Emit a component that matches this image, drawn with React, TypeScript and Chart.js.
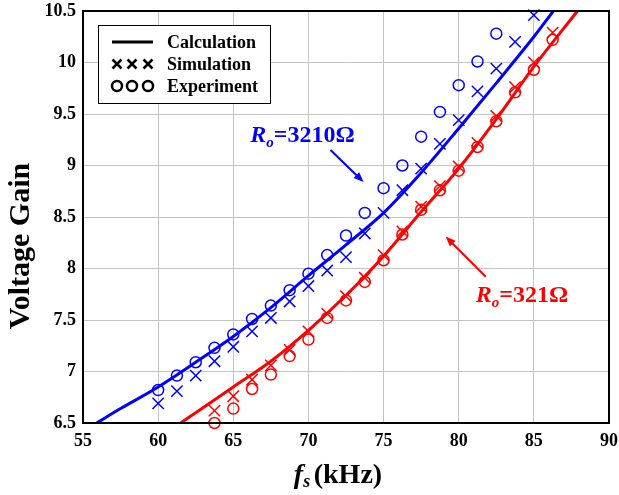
import React, { useEffect, useRef } from 'react';
import { Chart, registerables } from 'chart.js';
Chart.register(...registerables);

const FONT = '"Liberation Serif", "Times New Roman", serif';

// measured frequencies (kHz)
const blueExpFreq = [60, 61.25, 62.5, 63.75, 65, 66.25, 67.5, 68.75, 70, 71.25, 72.5, 73.75, 75, 76.25, 77.5, 78.75, 80, 81.25, 82.5];
const blueExperiment = [6.82, 6.96, 7.09, 7.23, 7.36, 7.51, 7.64, 7.79, 7.95, 8.13, 8.32, 8.54, 8.78, 9.0, 9.28, 9.52, 9.78, 10.01, 10.28];

const blueSimFreq = [60, 61.25, 62.5, 63.75, 65, 66.25, 67.5, 68.75, 70, 71.25, 72.5, 73.75, 75, 76.25, 77.5, 78.75, 80, 81.25, 82.5, 83.75, 85];
const blueSimulation = [6.69, 6.81, 6.96, 7.1, 7.24, 7.39, 7.52, 7.68, 7.83, 7.98, 8.11, 8.34, 8.54, 8.76, 8.97, 9.21, 9.44, 9.72, 9.94, 10.2, 10.46];

const redFreq = [63.75, 65, 66.25, 67.5, 68.75, 70, 71.25, 72.5, 73.75, 75, 76.25, 77.5, 78.75, 80, 81.25, 82.5, 83.75, 85, 86.25];
const redExperiment = [6.5, 6.64, 6.83, 6.97, 7.15, 7.31, 7.52, 7.69, 7.87, 8.08, 8.33, 8.57, 8.76, 8.95, 9.18, 9.43, 9.71, 9.93, 10.22];
const redSimulation = [6.62, 6.76, 6.92, 7.06, 7.21, 7.39, 7.56, 7.73, 7.91, 8.13, 8.36, 8.6, 8.8, 8.99, 9.22, 9.48, 9.76, 10.0, 10.29];

const blueCalcFreq = [55.9, 57.5, 60, 62.5, 65, 67.5, 70, 72.5, 75, 77.5, 80, 82.5, 85, 86.3];
const blueCalculation = [6.5, 6.64, 6.85, 7.09, 7.34, 7.62, 7.93, 8.23, 8.54, 8.93, 9.36, 9.8, 10.25, 10.5];

const redCalcFreq = [61.5, 62.5, 65, 67.5, 70, 72.5, 75, 77.5, 80, 82.5, 85, 87.9];
const redCalculation = [6.5, 6.6, 6.85, 7.1, 7.4, 7.74, 8.12, 8.55, 8.97, 9.45, 9.96, 10.5];

const xTickValues = [55, 60, 65, 70, 75, 80, 85, 90];
const yTickValues = [6.5, 7, 7.5, 8, 8.5, 9, 9.5, 10, 10.5];

const legendLabels = ['Calculation', 'Simulation', 'Experiment'];

const BLUE = '#0000ff';
const RED = '#ff0000';

const pts = (xs: number[], ys: number[]) => xs.map((x, i) => ({ x, y: ys[i] }));

type Seg = { t: string; f: string; dy?: number };
function drawSegs(ctx: CanvasRenderingContext2D, segs: Seg[], x: number, y: number, align: 'left' | 'center') {
  let total = 0;
  const widths = segs.map((s) => {
    ctx.font = s.f;
    const w = ctx.measureText(s.t).width;
    total += w;
    return w;
  });
  let cx = align === 'center' ? x - total / 2 : x;
  ctx.textAlign = 'left';
  ctx.textBaseline = 'alphabetic';
  segs.forEach((s, i) => {
    ctx.font = s.f;
    ctx.fillText(s.t, cx, y + (s.dy || 0));
    cx += widths[i];
  });
}

function arrow(ctx: CanvasRenderingContext2D, x1: number, y1: number, x2: number, y2: number, color: string) {
  const ang = Math.atan2(y2 - y1, x2 - x1);
  const hl = 10;
  const hw = 4;
  ctx.save();
  ctx.strokeStyle = color;
  ctx.fillStyle = color;
  ctx.lineWidth = 2;
  ctx.beginPath();
  ctx.moveTo(x1, y1);
  ctx.lineTo(x2 - Math.cos(ang) * hl * 0.8, y2 - Math.sin(ang) * hl * 0.8);
  ctx.stroke();
  ctx.beginPath();
  ctx.moveTo(x2, y2);
  ctx.lineTo(x2 - Math.cos(ang) * hl - Math.sin(ang) * hw, y2 - Math.sin(ang) * hl + Math.cos(ang) * hw);
  ctx.lineTo(x2 - Math.cos(ang) * hl + Math.sin(ang) * hw, y2 - Math.sin(ang) * hl - Math.cos(ang) * hw);
  ctx.closePath();
  ctx.fill();
  ctx.restore();
}

const decorPlugin = {
  id: 'decor',
  afterDraw(chart: any) {
    const { ctx, chartArea: a, scales } = chart;
    const xs = scales.x;
    const ys = scales.y;
    ctx.save();
    // frame
    ctx.strokeStyle = '#000';
    ctx.lineWidth = 2;
    ctx.strokeRect(a.left, a.top, a.right - a.left, a.bottom - a.top);

    // legend
    const lx = a.left + 15;
    const ly = a.top + 14;
    ctx.fillStyle = '#fff';
    ctx.fillRect(lx, ly, 172, 78);
    ctx.lineWidth = 1;
    ctx.strokeStyle = '#000';
    ctx.strokeRect(lx + 0.5, ly + 0.5, 172, 78);
    const rowY = [ly + 17, ly + 39, ly + 61];
    const sx0 = lx + 14;
    const sx1 = lx + 55;
    ctx.lineWidth = 3;
    ctx.beginPath();
    ctx.moveTo(sx0, rowY[0]);
    ctx.lineTo(sx1, rowY[0]);
    ctx.stroke();
    const mx = [sx0 + 5, sx0 + 20, sx0 + 36];
    ctx.lineWidth = 2.5;
    mx.forEach((m) => {
      const r = 4.5;
      ctx.beginPath();
      ctx.moveTo(m - r, rowY[1] - r);
      ctx.lineTo(m + r, rowY[1] + r);
      ctx.moveTo(m + r, rowY[1] - r);
      ctx.lineTo(m - r, rowY[1] + r);
      ctx.stroke();
      ctx.beginPath();
      ctx.arc(m, rowY[2], 5, 0, Math.PI * 2);
      ctx.stroke();
    });
    ctx.fillStyle = '#000';
    ctx.font = `bold 18px ${FONT}`;
    ctx.textAlign = 'left';
    ctx.textBaseline = 'middle';
    legendLabels.forEach((t, i) => ctx.fillText(t, lx + 69, rowY[i] + 1));

    // annotations
    ctx.fillStyle = BLUE;
    drawSegs(ctx, [
      { t: 'R', f: `italic bold 24px ${FONT}` },
      { t: 'o', f: `italic bold 15px ${FONT}`, dy: 5 },
      { t: '=3210Ω', f: `bold 24px ${FONT}` },
    ], xs.getPixelForValue(66.13), ys.getPixelForValue(9.23), 'left');
    arrow(ctx, xs.getPixelForValue(71.47), ys.getPixelForValue(9.15), xs.getPixelForValue(73.67), ys.getPixelForValue(8.84), BLUE);

    ctx.fillStyle = RED;
    drawSegs(ctx, [
      { t: 'R', f: `italic bold 24px ${FONT}` },
      { t: 'o', f: `italic bold 15px ${FONT}`, dy: 5 },
      { t: '=321Ω', f: `bold 24px ${FONT}` },
    ], xs.getPixelForValue(81.13), ys.getPixelForValue(7.67), 'left');
    arrow(ctx, xs.getPixelForValue(81.8), ys.getPixelForValue(7.92), xs.getPixelForValue(79.13), ys.getPixelForValue(8.31), RED);

    // axis titles
    ctx.fillStyle = '#000';
    drawSegs(ctx, [
      { t: 'f', f: `italic bold 28px ${FONT}` },
      { t: 's', f: `italic bold 18px ${FONT}`, dy: 4 },
      { t: ' ', f: `bold 14px ${FONT}` },
      { t: '(kHz)', f: `bold 28px ${FONT}` },
    ], (a.left + a.right) / 2 - 8, a.bottom + 60, 'center');

    ctx.save();
    ctx.translate(21, 246);
    ctx.rotate(-Math.PI / 2);
    ctx.font = `bold 30px ${FONT}`;
    ctx.textAlign = 'center';
    ctx.textBaseline = 'middle';
    ctx.fillText('Voltage Gain', 0, 0);
    ctx.restore();

    ctx.restore();
  },
};

export default function App() {
  const ref = useRef<HTMLCanvasElement | null>(null);
  useEffect(() => {
    if (!ref.current) return;
    const tickFont = { family: FONT, size: 18, weight: 'bold' as const };
    const chart = new Chart(ref.current, {
      type: 'scatter',
      data: {
        datasets: [
          { label: 'b-calc', data: pts(blueCalcFreq, blueCalculation), showLine: true, borderColor: BLUE, borderWidth: 3, pointRadius: 0, tension: 0.4, cubicInterpolationMode: 'monotone' },
          { label: 'r-calc', data: pts(redCalcFreq, redCalculation), showLine: true, borderColor: RED, borderWidth: 3, pointRadius: 0, tension: 0.4, cubicInterpolationMode: 'monotone' },
          { label: 'b-sim', data: pts(blueSimFreq, blueSimulation), pointStyle: 'crossRot', pointRadius: 8, borderColor: BLUE, borderWidth: 1.5, clip: false },
          { label: 'b-exp', data: pts(blueExpFreq, blueExperiment), pointStyle: 'circle', pointRadius: 5.5, borderColor: BLUE, backgroundColor: 'rgba(0,0,0,0)', borderWidth: 1.5, clip: false },
          { label: 'r-sim', data: pts(redFreq, redSimulation), pointStyle: 'crossRot', pointRadius: 8, borderColor: RED, borderWidth: 1.5, clip: false },
          { label: 'r-exp', data: pts(redFreq, redExperiment), pointStyle: 'circle', pointRadius: 5.5, borderColor: RED, backgroundColor: 'rgba(0,0,0,0)', borderWidth: 1.5, clip: false },
        ] as any,
      },
      options: {
        responsive: false,
        animation: false,
        layout: { padding: { left: 0, right: 10, top: 11, bottom: 0 } },
        plugins: { legend: { display: false }, tooltip: { enabled: false }, title: { display: false } },
        scales: {
          x: {
            type: 'linear',
            min: 55,
            max: 90,
            afterBuildTicks: (s: any) => { s.ticks = xTickValues.map((v) => ({ value: v })); },
            afterFit: (s: any) => { s.height = 72; s.paddingLeft = 0; s.paddingRight = 0; },
            ticks: { font: tickFont, color: '#000', padding: 8, callback: (v: any) => String(v) },
            grid: { color: '#c4c4c4', lineWidth: 1, drawTicks: false },
            border: { display: true, color: '#000', width: 2 },
          },
          y: {
            type: 'linear',
            min: 6.5,
            max: 10.5,
            afterBuildTicks: (s: any) => { s.ticks = yTickValues.map((v) => ({ value: v })); },
            afterFit: (s: any) => { s.width = 83; s.paddingTop = 0; s.paddingBottom = 0; },
            ticks: { font: tickFont, color: '#000', padding: 7, callback: (v: any) => String(v) },
            grid: { color: '#c4c4c4', lineWidth: 1, drawTicks: false },
            border: { display: true, color: '#000', width: 2 },
          },
        },
      } as any,
      plugins: [decorPlugin],
    });
    return () => chart.destroy();
  }, []);
  return (
    <div style={{ position: 'fixed', left: 0, top: 0, width: 619, height: 495, background: '#fff' }}>
      <canvas ref={ref} width={619} height={495} style={{ display: 'block' }} />
    </div>
  );
}
